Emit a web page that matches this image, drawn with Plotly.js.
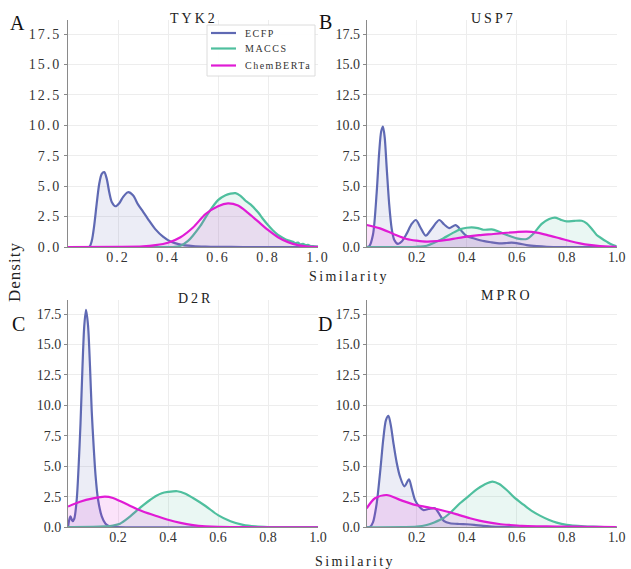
<!DOCTYPE html>
<html>
<head>
<meta charset="utf-8">
<script src="https://cdn.plot.ly/plotly-3.0.1.min.js"></script>
<style>
  html, body { margin: 0; padding: 0; background: #fff; }
  #chart { width: 631px; height: 569px; }
  .xtick text, .ytick text { letter-spacing: 2px; }
</style>
</head>
<body>
<div id="chart"></div>
<script>
// ---- data ----
const methods = ["ECFP", "MACCS", "ChemBERTa"];
const panels = ["TYK2", "USP7", "D2R", "MPRO"];
const panelLetters = ["A", "B", "C", "D"];
const xTickVals = [0.2, 0.4, 0.6, 0.8, 1.0];
const xTickText = ["0.2", "0.4", "0.6", "0.8", "1.0"];
const yTickVals = [0, 2.5, 5, 7.5, 10, 12.5, 15, 17.5];
const yTickText = ["0.0", "2.5", "5.0", "7.5", "10.0", "12.5", "15.0", "17.5"];

// TYK2
const tyk2_ecfp_x = [0, 0.05, 0.085, 0.095, 0.105, 0.115, 0.125, 0.135, 0.145, 0.155, 0.165, 0.175, 0.19, 0.205, 0.22, 0.24, 0.26, 0.28, 0.3, 0.32, 0.35, 0.38, 0.41, 0.45, 0.5, 0.55, 0.6, 0.7, 0.8, 0.9, 1.0];
const tyk2_ecfp_y = [0, 0, 0, 0.5, 1.8, 3.6, 5.2, 6.0, 6.15, 5.6, 4.5, 3.7, 3.35, 3.6, 4.1, 4.5, 4.25, 3.5, 2.9, 2.3, 1.45, 0.85, 0.45, 0.2, 0.08, 0.03, 0.01, 0, 0, 0, 0];
const tyk2_maccs_x = [0, 0.3, 0.42, 0.45, 0.48, 0.5, 0.53, 0.56, 0.6, 0.63, 0.65, 0.67, 0.69, 0.71, 0.73, 0.76, 0.78, 0.8, 0.82, 0.84, 0.86, 0.88, 0.9, 0.91, 0.92, 0.93, 0.94, 0.95, 0.96, 0.97, 0.98, 1.0];
const tyk2_maccs_y = [0, 0, 0, 0.1, 0.5, 0.95, 1.75, 2.75, 3.85, 4.25, 4.38, 4.42, 4.2, 3.8, 3.5, 2.85, 2.3, 1.8, 1.35, 1.0, 0.75, 0.55, 0.42, 0.32, 0.36, 0.22, 0.26, 0.15, 0.18, 0.08, 0.08, 0.03];
const tyk2_chem_x = [0, 0.2, 0.3, 0.35, 0.4, 0.45, 0.5, 0.55, 0.6, 0.64, 0.68, 0.72, 0.76, 0.8, 0.84, 0.88, 0.92, 0.96, 1.0];
const tyk2_chem_y = [0, 0.01, 0.05, 0.15, 0.35, 0.8, 1.6, 2.7, 3.35, 3.58, 3.4, 2.8, 2.1, 1.4, 0.8, 0.4, 0.15, 0.04, 0.01];

// USP7
const usp7_ecfp_x = [0, 0.01, 0.025, 0.04, 0.05, 0.058, 0.065, 0.072, 0.08, 0.09, 0.1, 0.11, 0.125, 0.14, 0.16, 0.18, 0.197, 0.215, 0.236, 0.26, 0.29, 0.31, 0.33, 0.356, 0.38, 0.4, 0.43, 0.47, 0.5, 0.53, 0.56, 0.58, 0.61, 0.64, 0.68, 0.72, 0.8, 1.0];
const usp7_ecfp_y = [0, 0.05, 1.0, 4.5, 7.8, 9.5, 9.9, 9.0, 6.5, 3.5, 1.5, 0.6, 0.25, 0.45, 1.1, 1.9, 2.22, 1.6, 0.93, 1.5, 2.22, 1.85, 1.55, 1.8, 1.3, 0.9, 0.7, 0.48, 0.38, 0.3, 0.33, 0.36, 0.28, 0.16, 0.07, 0.02, 0, 0];
const usp7_maccs_x = [0, 0.15, 0.2, 0.24, 0.27, 0.306, 0.34, 0.373, 0.4, 0.42, 0.445, 0.466, 0.5, 0.525, 0.547, 0.575, 0.6, 0.64, 0.667, 0.7, 0.73, 0.753, 0.775, 0.8, 0.83, 0.86, 0.88, 0.9, 0.92, 0.94, 0.96, 0.98, 1.0];
const usp7_maccs_y = [0, 0, 0.02, 0.1, 0.35, 0.71, 1.1, 1.45, 1.58, 1.62, 1.55, 1.42, 1.45, 1.3, 1.1, 0.88, 0.71, 0.66, 1.1, 1.9, 2.3, 2.42, 2.25, 2.1, 2.15, 2.16, 1.94, 1.5, 0.99, 0.7, 0.44, 0.2, 0.05];
const usp7_chem_x = [0, 0.053, 0.107, 0.16, 0.2, 0.24, 0.28, 0.32, 0.36, 0.4, 0.45, 0.507, 0.56, 0.6, 0.64, 0.68, 0.72, 0.773, 0.82, 0.853, 0.89, 0.933, 0.97, 1.0];
const usp7_chem_y = [1.81, 1.53, 1.07, 0.66, 0.52, 0.44, 0.48, 0.58, 0.72, 0.85, 0.97, 1.07, 1.17, 1.23, 1.26, 1.18, 1.0, 0.71, 0.45, 0.3, 0.17, 0.08, 0.03, 0.01];

// D2R
const d2r_ecfp_x = [0, 0.005, 0.01, 0.018, 0.025, 0.035, 0.042, 0.05, 0.058, 0.065, 0.072, 0.08, 0.088, 0.095, 0.103, 0.11, 0.12, 0.135, 0.15, 0.17, 0.2, 0.3, 1.0];
const d2r_ecfp_y = [0, 0.6, 0.9, 0.5, 0.7, 2.3, 4.8, 8.5, 13.2, 16.5, 17.85, 16.6, 13.2, 9.5, 6.5, 4.3, 2.3, 0.9, 0.3, 0.07, 0.01, 0, 0];
const d2r_maccs_x = [0, 0.1, 0.15, 0.18, 0.208, 0.24, 0.275, 0.3, 0.328, 0.35, 0.375, 0.4, 0.437, 0.47, 0.5, 0.55, 0.6, 0.65, 0.7, 0.75, 0.8, 0.9, 1.0];
const d2r_maccs_y = [0.02, 0.03, 0.08, 0.15, 0.3, 0.75, 1.37, 1.8, 2.24, 2.55, 2.8, 2.9, 2.96, 2.75, 2.4, 1.75, 1.0, 0.5, 0.2, 0.07, 0.02, 0, 0];
const d2r_chem_x = [0, 0.048, 0.1, 0.148, 0.18, 0.208, 0.24, 0.275, 0.3, 0.35, 0.4, 0.45, 0.5, 0.55, 0.6, 0.7, 0.8, 1.0];
const d2r_chem_y = [1.7, 2.1, 2.37, 2.51, 2.4, 2.15, 1.85, 1.5, 1.3, 0.95, 0.62, 0.36, 0.18, 0.08, 0.03, 0.01, 0, 0];

// MPRO
const mpro_ecfp_x = [0, 0.013, 0.025, 0.04, 0.055, 0.066, 0.077, 0.087, 0.097, 0.107, 0.12, 0.133, 0.151, 0.169, 0.18, 0.193, 0.21, 0.226, 0.247, 0.273, 0.29, 0.31, 0.333, 0.37, 0.4, 0.43, 0.466, 0.5, 0.533, 0.6, 1.0];
const mpro_ecfp_y = [0, 0.02, 0.4, 1.97, 4.8, 7.17, 8.8, 9.15, 8.3, 6.9, 5.3, 4.17, 3.36, 3.94, 3.2, 2.25, 1.7, 1.42, 1.5, 1.56, 1.1, 0.5, 0.33, 0.27, 0.25, 0.2, 0.11, 0.06, 0.03, 0, 0];
const mpro_maccs_x = [0, 0.15, 0.2, 0.24, 0.27, 0.306, 0.34, 0.373, 0.41, 0.44, 0.47, 0.503, 0.53, 0.56, 0.59, 0.627, 0.66, 0.693, 0.73, 0.76, 0.8, 0.826, 0.87, 0.906, 0.95, 1.0];
const mpro_maccs_y = [0, 0.01, 0.05, 0.19, 0.4, 0.74, 1.3, 1.97, 2.6, 3.12, 3.5, 3.75, 3.55, 3.06, 2.45, 1.86, 1.35, 0.96, 0.6, 0.38, 0.2, 0.14, 0.08, 0.05, 0.02, 0];
const mpro_chem_x = [0, 0.033, 0.08, 0.133, 0.193, 0.23, 0.266, 0.3, 0.333, 0.37, 0.413, 0.45, 0.493, 0.53, 0.573, 0.62, 0.68, 0.76, 0.84, 0.92, 1.0];
const mpro_chem_y = [1.56, 2.38, 2.65, 2.25, 1.84, 1.7, 1.56, 1.4, 1.23, 1.0, 0.74, 0.55, 0.38, 0.27, 0.19, 0.12, 0.08, 0.06, 0.05, 0.03, 0.02];

// ---- styles ----
const lineColors = ["#5f69b3", "#4fbf9e", "#e01bd5"];
const fillColors = ["rgba(95,105,179,0.12)", "rgba(79,191,158,0.12)", "rgba(224,27,213,0.12)"];
const FONT = "Liberation Serif";

const series = [
  [[tyk2_ecfp_x, tyk2_ecfp_y], [tyk2_maccs_x, tyk2_maccs_y], [tyk2_chem_x, tyk2_chem_y]],
  [[usp7_ecfp_x, usp7_ecfp_y], [usp7_maccs_x, usp7_maccs_y], [usp7_chem_x, usp7_chem_y]],
  [[d2r_ecfp_x, d2r_ecfp_y], [d2r_maccs_x, d2r_maccs_y], [d2r_chem_x, d2r_chem_y]],
  [[mpro_ecfp_x, mpro_ecfp_y], [mpro_maccs_x, mpro_maccs_y], [mpro_chem_x, mpro_chem_y]]
];

const traces = [];
series.forEach((panel, p) => {
  const sfx = p === 0 ? "" : String(p + 1);
  panel.forEach((xy, m) => {
    traces.push({
      type: "scatter", mode: "lines",
      x: xy[0], y: xy[1],
      xaxis: "x" + sfx, yaxis: "y" + sfx,
      name: methods[m], showlegend: false,
      line: { color: lineColors[m], width: 2.2, shape: "spline", smoothing: 0.8 },
      fill: "tozeroy", fillcolor: fillColors[m],
      hoverinfo: "skip"
    });
  });
});

const W = 631, H = 569;
const xDomL = [68 / W, 318 / W], xDomR = [366.7 / W, 616.7 / W];
const yDomT = [1 - 247 / H, 1 - 20 / H], yDomB = [1 - 527.3 / H, 1 - 300 / H];

function xax(dom, anchor) {
  return {
    domain: dom, anchor: anchor, range: [0, 1],
    tickmode: "array", tickvals: xTickVals, ticktext: xTickText,
    showgrid: true, gridcolor: "#ededed", gridwidth: 1, zeroline: false,
    showline: true, linecolor: "#8a8a8a", linewidth: 1, ticks: "",
    ticklabelstandoff: -3,
    tickfont: { family: FONT, size: 14, color: "#333" }, fixedrange: true
  };
}
function yax(dom, anchor) {
  return {
    domain: dom, anchor: anchor, range: [0, 18.65],
    tickmode: "array", tickvals: yTickVals, ticktext: yTickText,
    showgrid: true, gridcolor: "#ededed", gridwidth: 1, zeroline: false,
    showline: true, linecolor: "#8a8a8a", linewidth: 1,
    ticks: "outside", ticklen: 3, tickcolor: "#8a8a8a",
    tickfont: { family: FONT, size: 14, color: "#333" }, fixedrange: true
  };
}

function ann(text, px, py, size, opts) {
  return Object.assign({
    text: text, xref: "paper", yref: "paper",
    x: px / W, y: 1 - py / H, xanchor: "center", yanchor: "middle",
    showarrow: false, font: { family: FONT, size: size, color: "#222" }
  }, opts || {});
}
const sp = (t, s) => '<span style="letter-spacing:' + s + 'px">' + t + '</span>';

const annotations = [
  ann(sp(panels[0], 3), 194, 19, 14),
  ann(sp(panels[1], 3), 493, 19, 14),
  ann(sp(panels[2], 3), 195, 298, 14),
  ann(sp(panels[3], 3), 507, 295, 14),
  ann(panelLetters[0], 17, 23, 20, { font: { family: FONT, size: 20, color: "#111" } }),
  ann(panelLetters[1], 325, 22, 20, { font: { family: FONT, size: 20, color: "#111" } }),
  ann(panelLetters[2], 18, 324, 20, { font: { family: FONT, size: 20, color: "#111" } }),
  ann(panelLetters[3], 325, 324, 20, { font: { family: FONT, size: 20, color: "#111" } }),
  ann(sp("Similarity", 2.4), 349, 277, 14),
  ann(sp("Similarity", 2.4), 355, 561, 14),
  ann(sp("Density", 1), 14, 272, 17, { textangle: -90 })
];

// legend drawn as a framed key (box, line samples, labels)
const legendBox = { x0: 207, x1: 315, y0: 25, y1: 76 };
const legendRows = [33, 48.5, 65.5];
const shapes = [{
  type: "rect", xref: "paper", yref: "paper", layer: "above",
  x0: legendBox.x0 / W, x1: legendBox.x1 / W, y0: 1 - legendBox.y1 / H, y1: 1 - legendBox.y0 / H,
  line: { color: "#dcdcdc", width: 1 }, fillcolor: "rgba(255,255,255,0.95)"
}];
methods.forEach((m, i) => {
  shapes.push({
    type: "line", xref: "paper", yref: "paper", layer: "above",
    x0: 211 / W, x1: 236 / W, y0: 1 - legendRows[i] / H, y1: 1 - legendRows[i] / H,
    line: { color: lineColors[i], width: 2.2 }
  });
  annotations.push(ann(sp(m, 1.5), 243, legendRows[i], 10, {
    xanchor: "left", font: { family: FONT, size: 10, color: "#333" }
  }));
});

const layout = {
  width: W, height: H,
  margin: { l: 0, r: 0, t: 0, b: 0 },
  paper_bgcolor: "#fff", plot_bgcolor: "#fff",
  font: { family: FONT, color: "#333" },
  showlegend: false,
  xaxis: xax(xDomL, "y"), yaxis: yax(yDomT, "x"),
  xaxis2: xax(xDomR, "y2"), yaxis2: yax(yDomT, "x2"),
  xaxis3: xax(xDomL, "y3"), yaxis3: yax(yDomB, "x3"),
  xaxis4: xax(xDomR, "y4"), yaxis4: yax(yDomB, "x4"),
  annotations: annotations,
  shapes: shapes
};

Plotly.newPlot("chart", traces, layout, { displayModeBar: false, staticPlot: true });
</script>
</body>
</html>
